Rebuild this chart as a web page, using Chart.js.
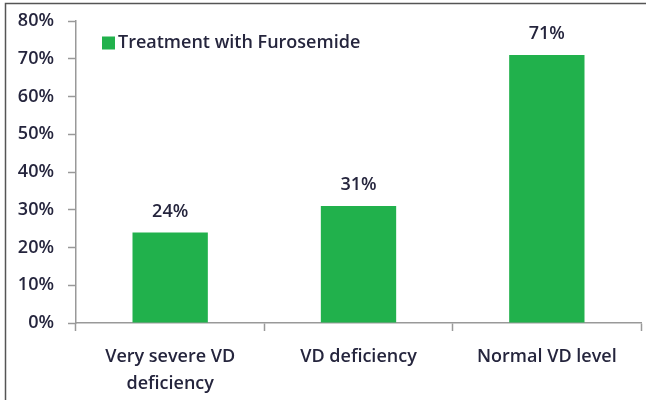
<!DOCTYPE html>
<html>
<head>
<meta charset="utf-8">
<script src="https://cdn.jsdelivr.net/npm/chart.js@4/dist/chart.umd.min.js"></script>
<style>
html,body{margin:0;padding:0;background:#fff;}
#wrap{position:relative;width:646px;height:400px;}
</style>
</head>
<body>
<div id="wrap"><canvas id="c" width="646" height="400"></canvas></div>
<script>
const categories = [["Very severe VD", "deficiency"], "VD deficiency", "Normal VD level"];
const seriesName = "Treatment with Furosemide";
const furosemideValues = [24, 31, 71];
const yTickValues = [0, 10, 20, 30, 40, 50, 60, 70, 80];

const textColor = '#25253d';
const barColor = '#21b14c';
const fontFamily = '"Open Sans", "Liberation Sans", sans-serif';

const frame = {
  id: 'frame',
  beforeDraw(chart) {
    const ctx = chart.ctx;
    ctx.save();
    ctx.fillStyle = '#fff';
    ctx.fillRect(0, 0, chart.width, chart.height);
    ctx.strokeStyle = '#555';
    ctx.lineWidth = 1.5;
    ctx.beginPath();
    ctx.moveTo(5.5, 400);
    ctx.lineTo(5.5, 3.5);
    ctx.lineTo(646, 3.5);
    ctx.stroke();
    ctx.restore();
  }
};

const insideLegend = {
  id: 'insideLegend',
  afterDraw(chart) {
    const ctx = chart.ctx;
    const ds = chart.data.datasets[0];
    const x = chart.chartArea.left + 26;
    const y = 43;
    ctx.save();
    ctx.fillStyle = ds.backgroundColor;
    ctx.fillRect(x, y - 6.5, 13, 13);
    ctx.fillStyle = textColor;
    ctx.font = '600 18px ' + fontFamily;
    ctx.textAlign = 'left';
    ctx.textBaseline = 'middle';
    ctx.fillText(ds.label, x + 16, y);
    ctx.restore();
  }
};

const barLabels = {
  id: 'barLabels',
  afterDatasetsDraw(chart) {
    const ctx = chart.ctx;
    const meta = chart.getDatasetMeta(0);
    ctx.save();
    ctx.fillStyle = textColor;
    ctx.font = '600 18px ' + fontFamily;
    ctx.textAlign = 'center';
    ctx.textBaseline = 'middle';
    meta.data.forEach((bar, i) => {
      ctx.fillText(chart.data.datasets[0].data[i] + '%', bar.x, bar.y - 21);
    });
    ctx.restore();
  }
};

new Chart(document.getElementById('c'), {
  type: 'bar',
  data: {
    labels: categories,
    datasets: [{
      label: seriesName,
      data: furosemideValues,
      backgroundColor: barColor,
      borderWidth: 0,
      categoryPercentage: 1.0,
      barPercentage: 0.4
    }]
  },
  options: {
    responsive: false,
    animation: false,
    layout: { padding: { left: 0, right: 5, top: 21, bottom: 0 } },
    plugins: {
      legend: { display: false },
      tooltip: { enabled: false }
    },
    scales: {
      x: {
        offset: true,
        grid: { offset: true, drawOnChartArea: false, color: '#999', tickLength: 8, tickWidth: 1.5 },
        border: { color: '#999', width: 1.5 },
        ticks: {
          color: textColor,
          padding: 12,
          font: { family: fontFamily, size: 18, weight: '600', lineHeight: '27px' },
          maxRotation: 0
        },
        afterFit(scale) { scale.height = 77; scale.paddingLeft = 0; scale.paddingRight = 0; }
      },
      y: {
        min: 0,
        max: 80,
        afterBuildTicks(scale) { scale.ticks = yTickValues.map(v => ({ value: v })); },
        grid: { drawOnChartArea: false, color: '#999', tickLength: 8, tickWidth: 1.5 },
        border: { color: '#999', width: 1.5 },
        ticks: {
          color: textColor,
          padding: 14,
          font: { family: fontFamily, size: 18, weight: '600' },
          callback: v => v + '%'
        },
        afterFit(scale) { scale.width = 76; scale.paddingTop = 0; scale.paddingBottom = 0; }
      }
    }
  },
  plugins: [frame, insideLegend, barLabels]
});
</script>
</body>
</html>
